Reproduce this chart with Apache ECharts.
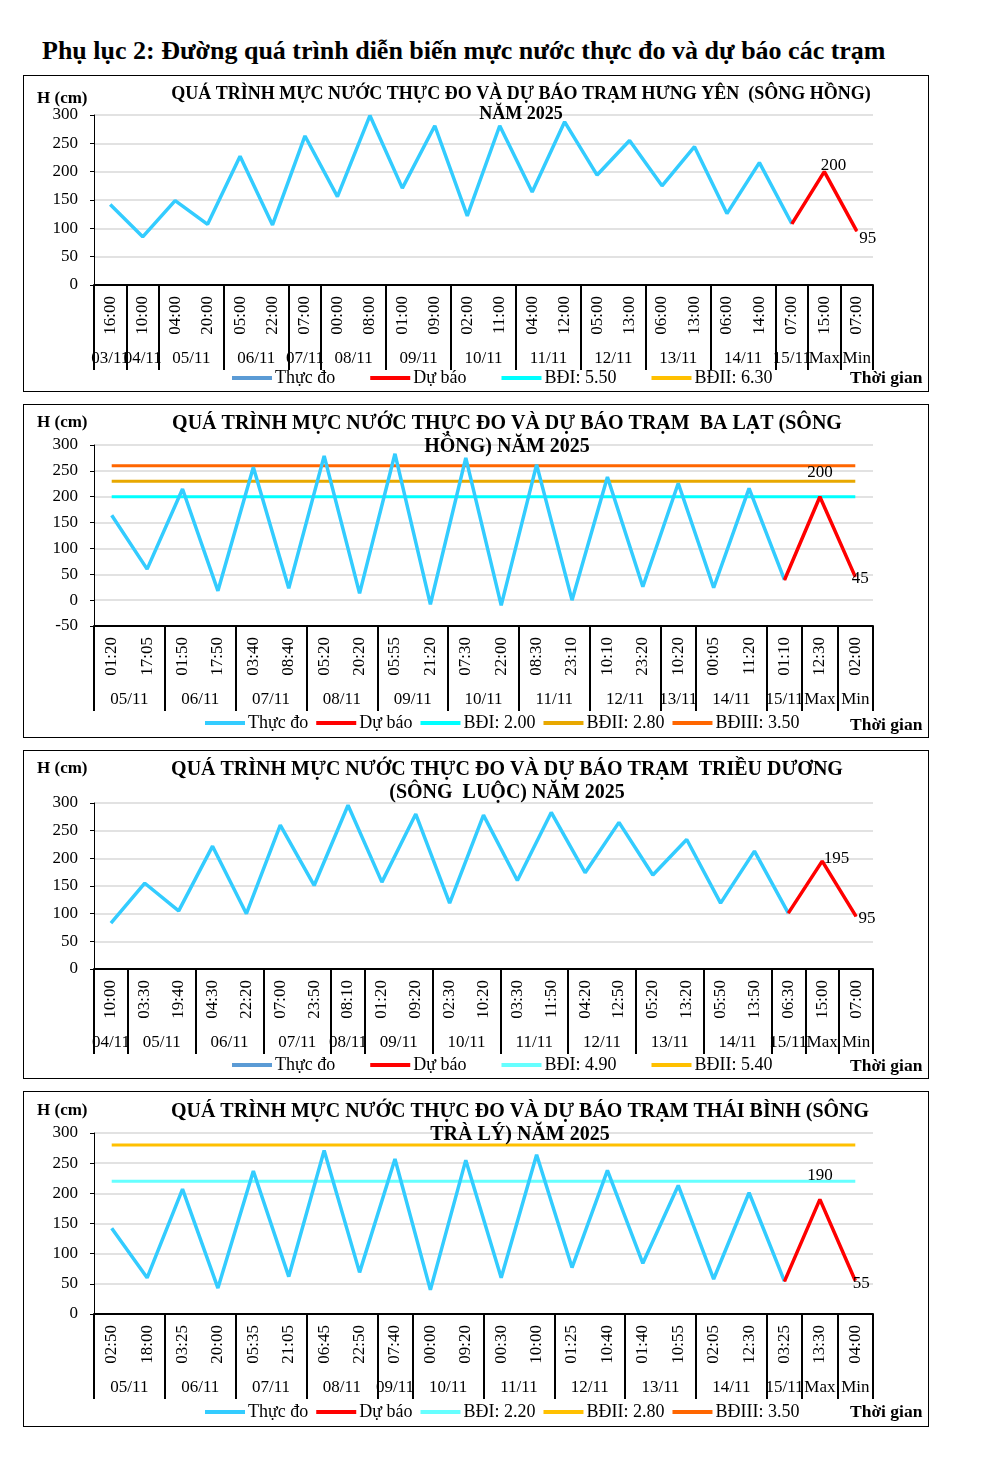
<!DOCTYPE html>
<html><head><meta charset="utf-8">
<script src="https://cdn.jsdelivr.net/npm/echarts@6/dist/echarts.min.js"></script>
<style>
html,body{margin:0;padding:0;background:#fff;}
body{width:985px;height:1480px;position:relative;font-family:'Liberation Serif','Times New Roman',serif;}
#pageTitle{position:absolute;left:42px;top:36px;font-weight:bold;font-size:26px;white-space:nowrap;color:#000;}
.box{position:absolute;left:23px;width:906px;border:1px solid #000;box-sizing:border-box;}
</style></head><body>
<div id="pageTitle">Phụ lục 2: Đường quá trình diễn biến mực nước thực đo và dự báo các trạm</div>
<div class="box" id="c1" style="top:75px;height:317px"></div>
<div class="box" id="c2" style="top:404px;height:334px"></div>
<div class="box" id="c3" style="top:750px;height:329px"></div>
<div class="box" id="c4" style="top:1091px;height:336px"></div>
<script>
// ---------- DATA ----------
// Trạm Hưng Yên (sông Hồng)
const hyTitle = 'QUÁ TRÌNH MỰC NƯỚC THỰC ĐO VÀ DỰ BÁO TRẠM HƯNG YÊN  (SÔNG HỒNG)\nNĂM 2025';
const hyTimes = ['16:00','10:00','04:00','20:00','05:00','22:00','07:00','00:00','08:00','01:00','09:00','02:00','11:00','04:00','12:00','05:00','13:00','06:00','13:00','06:00','14:00','07:00','15:00','07:00'];
const hyDates = ['03/11','04/11','05/11','06/11','07/11','08/11','09/11','10/11','11/11','12/11','13/11','14/11','15/11','Max','Min'];
const hySpans = [1,1,2,2,1,2,2,2,2,2,2,2,1,1,1];
const hyObserved = [142,85,149,107,227,106,263,156,299,171,281,122,281,164,288,194,255,175,244,126,216,108];
const hyForecast = [200,95];
const hyLevelNames = ['BĐI: 5.50','BĐII: 6.30'];
const hyLevelValues = [null,null];
const hyYTicks = [0,300,50];

// Trạm Ba Lạt (sông Hồng)
const blTitle = 'QUÁ TRÌNH MỰC NƯỚC THỰC ĐO VÀ DỰ BÁO TRẠM  BA LẠT (SÔNG\nHỒNG) NĂM 2025';
const blTimes = ['01:20','17:05','01:50','17:50','03:40','08:40','05:20','20:20','05:55','21:20','07:30','22:00','08:30','23:10','10:10','23:20','10:20','00:05','11:20','01:10','12:30','02:00'];
const blDates = ['05/11','06/11','07/11','08/11','09/11','10/11','11/11','12/11','13/11','14/11','15/11','Max','Min'];
const blSpans = [2,2,2,2,2,2,2,2,1,2,1,1,1];
const blObserved = [164,60,215,18,257,23,279,13,283,-8,275,-10,262,0,238,26,226,24,216,39];
const blForecast = [200,45];
const blLevelNames = ['BĐI: 2.00','BĐII: 2.80','BĐIII: 3.50'];
const blLevelValues = [200,230,260];
const blYTicks = [-50,300,50];

// Trạm Triều Dương (sông Luộc)
const tdTitle = 'QUÁ TRÌNH MỰC NƯỚC THỰC ĐO VÀ DỰ BÁO TRẠM  TRIỀU DƯƠNG\n(SÔNG  LUỘC) NĂM 2025';
const tdTimes = ['10:00','03:30','19:40','04:30','22:20','07:00','23:50','08:10','01:20','09:20','02:30','10:20','03:30','11:50','04:20','12:50','05:20','13:20','05:50','13:50','06:30','15:00','07:00'];
const tdDates = ['04/11','05/11','06/11','07/11','08/11','09/11','10/11','11/11','12/11','13/11','14/11','15/11','Max','Min'];
const tdSpans = [1,2,2,2,1,2,2,2,2,2,2,1,1,1];
const tdObserved = [83,155,105,222,100,260,151,296,157,280,119,278,160,283,174,265,170,234,119,213,101];
const tdForecast = [195,95];
const tdLevelNames = ['BĐI: 4.90','BĐII: 5.40'];
const tdLevelValues = [null,null];
const tdYTicks = [0,300,50];

// Trạm Thái Bình (sông Trà Lý)
const tbTitle = 'QUÁ TRÌNH MỰC NƯỚC THỰC ĐO VÀ DỰ BÁO TRẠM THÁI BÌNH (SÔNG\nTRÀ LÝ) NĂM 2025';
const tbTimes = ['02:50','18:00','03:25','20:00','05:35','21:05','06:45','22:50','07:40','00:00','09:20','00:30','10:00','01:25','10:40','01:40','10:55','02:05','12:30','03:25','13:30','04:00'];
const tbDates = ['05/11','06/11','07/11','08/11','09/11','10/11','11/11','12/11','13/11','14/11','15/11','Max','Min'];
const tbSpans = [2,2,2,2,1,2,2,2,2,2,1,1,1];
const tbObserved = [142,60,207,43,237,62,271,69,257,40,255,60,264,77,238,84,213,58,201,54];
const tbForecast = [190,55];
const tbLevelNames = ['BĐI: 2.20','BĐII: 2.80','BĐIII: 3.50'];
const tbLevelValues = [220,280,null];
const tbYTicks = [0,300,50];

const seriesNames = ['Thực đo','Dự báo'];
const yName = 'H (cm)';
const xName = 'Thời gian';

// ---------- STYLE / LAYOUT ----------
const FONT = "'Liberation Serif','Times New Roman',serif";
const OBS_COLOR = '#33CCFF';
const FC_COLOR = '#FF0000';

const configs = [
  { el:'c1', title:hyTitle, times:hyTimes, dates:hyDates, spans:hySpans, obs:hyObserved, fc:hyForecast,
    lvNames:hyLevelNames, lvValues:hyLevelValues, yt:hyYTicks,
    lvColors:['#00FFFF','#FFC000'], obsLegendColor:'#5B9BD5',
    grid:{left:70,right:55,top:39,bottom:106},
    titleX:497, titleY:8, titleLH:20, titleFS:18, hY:14, tgY:293, legendX:208, legendY:293, legendGap:35,
    maxLabel:{position:'right',distance:-4,offset:[0,-6]},
    minLabel:{position:'right',distance:2,offset:[0,7]} },
  { el:'c2', title:blTitle, times:blTimes, dates:blDates, spans:blSpans, obs:blObserved, fc:blForecast,
    lvNames:blLevelNames, lvValues:blLevelValues, yt:blYTicks,
    lvColors:['#00FFFF','#E8A800','#FF6600'], obsLegendColor:null,
    grid:{left:70,right:55,top:40,bottom:111},
    titleX:483, titleY:7, titleLH:23, titleFS:20, hY:9, tgY:311, legendX:181, legendY:309, legendGap:8,
    maxLabel:{position:'top',distance:15,offset:[0,0]},
    minLabel:{position:'right',distance:-4,offset:[0,2]} },
  { el:'c3', title:tdTitle, times:tdTimes, dates:tdDates, spans:tdSpans, obs:tdObserved, fc:tdForecast,
    lvNames:tdLevelNames, lvValues:tdLevelValues, yt:tdYTicks,
    lvColors:['#66FFFF','#FFC000'], obsLegendColor:'#5B9BD5',
    grid:{left:70,right:55,top:52,bottom:109},
    titleX:483, titleY:7, titleLH:23, titleFS:20, hY:9, tgY:306, legendX:208, legendY:305, legendGap:35,
    maxLabel:{position:'right',distance:1,offset:[0,-3]},
    minLabel:{position:'right',distance:2,offset:[0,2]} },
  { el:'c4', title:tbTitle, times:tbTimes, dates:tbDates, spans:tbSpans, obs:tbObserved, fc:tbForecast,
    lvNames:tbLevelNames, lvValues:tbLevelValues, yt:tbYTicks,
    lvColors:['#66FFFF','#FFC000','#FF6600'], obsLegendColor:null,
    grid:{left:70,right:55,top:41,bottom:112},
    titleX:496, titleY:8, titleLH:23, titleFS:20, hY:10, tgY:311, legendX:181, legendY:311, legendGap:8,
    maxLabel:{position:'top',distance:15,offset:[0,0]},
    minLabel:{position:'right',distance:-3,offset:[0,3]} }
];

function buildOption(c) {
  const N = c.times.length;
  const fcStart = c.obs.length - 1;
  const labelBase = {show:true, color:'#000', fontFamily:FONT, fontSize:17};
  const fcData = c.times.map((t,i) => {
    if (i < fcStart) return null;
    if (i === fcStart) return c.obs[i];
    const k = i - fcStart - 1;
    const v = c.fc[k];
    const lab = Object.assign({}, labelBase, k === 0 ? c.maxLabel : c.minLabel);
    return {value:v, label:lab};
  });
  // group boundaries for separators
  const starts = new Set(); let acc = 0;
  c.spans.forEach(s => { starts.add(acc); acc += s; });
  // date labels placed at group centres (half-category resolution axis)
  const dateAxisData = new Array(2*N + 1).fill('');
  acc = 0;
  c.dates.forEach((d,k) => { dateAxisData[2*acc + c.spans[k]] = d; acc += c.spans[k]; });

  const legendData = [
    c.obsLegendColor ? {name:seriesNames[0], itemStyle:{color:c.obsLegendColor}} : {name:seriesNames[0]},
    {name:seriesNames[1]}
  ].concat(c.lvNames.map(n => ({name:n})));

  const series = [];
  c.lvNames.forEach((n,i) => {
    const v = c.lvValues[i];
    series.push({
      name:n, type:'line', xAxisIndex:0, yAxisIndex:0, z:1,
      data: v == null ? [] : c.times.map(() => v),
      showSymbol:false, symbol:'none', silent:true,
      color:c.lvColors[i], lineStyle:{color:c.lvColors[i], width:3}
    });
  });
  series.push({
    name:seriesNames[0], type:'line', z:2, data:c.obs, showSymbol:false, symbol:'none',
    color:OBS_COLOR, lineStyle:{color:OBS_COLOR, width:3.5}
  });
  series.push({
    name:seriesNames[1], type:'line', z:3, data:fcData, showSymbol:true, symbol:'circle', symbolSize:1,
    connectNulls:false, color:FC_COLOR, itemStyle:{color:FC_COLOR}, lineStyle:{color:FC_COLOR, width:3.5},
    label:{show:false}
  });

  return {
    animation:false,
    backgroundColor:'#fff',
    textStyle:{fontFamily:FONT},
    title:[
      {text:c.title, left:c.titleX, top:c.titleY, textAlign:'center', padding:0,
       textStyle:{fontFamily:FONT, fontWeight:'bold', fontSize:c.titleFS, lineHeight:c.titleLH, color:'#000'}},
      {text:yName, left:13, top:c.hY, padding:0,
       textStyle:{fontFamily:FONT, fontWeight:'bold', fontSize:17, color:'#000'}},
      {text:xName, left:826, top:c.tgY, padding:0,
       textStyle:{fontFamily:FONT, fontWeight:'bold', fontSize:17.5, color:'#000'}}
    ],
    legend:{
      data:legendData, left:c.legendX, top:c.legendY, padding:0, itemGap:c.legendGap,
      itemWidth:40, itemHeight:4, icon:'rect', selectedMode:false,
      textStyle:{fontFamily:FONT, fontSize:18, color:'#000', padding:[0,0,0,-2]}
    },
    grid:Object.assign({containLabel:false}, c.grid),
    xAxis:[
      { type:'category', data:c.times, boundaryGap:true, position:'bottom',
        axisLine:{show:true, onZero:false, lineStyle:{color:'#000', width:2}},
        axisTick:{show:true, interval:(i) => starts.has(i), length:85, lineStyle:{color:'#000', width:2}},
        axisLabel:{interval:0, rotate:90, margin:11, fontFamily:FONT, fontSize:17, color:'#000'},
        splitLine:{show:false}
      },
      { type:'category', data:dateAxisData, boundaryGap:false, position:'bottom', offset:57,
        min:0, max:2*N,
        axisLine:{show:false}, axisTick:{show:false}, splitLine:{show:false},
        axisLabel:{interval:0, margin:8, fontFamily:FONT, fontSize:17, color:'#000'}
      }
    ],
    yAxis:{
      type:'value', min:c.yt[0], max:c.yt[1], interval:c.yt[2],
      axisLine:{show:true, lineStyle:{color:'#000', width:1}},
      axisTick:{show:true, length:4, lineStyle:{color:'#000'}},
      axisLabel:{margin:16, fontFamily:FONT, fontSize:17, color:'#000'},
      splitLine:{show:true, lineStyle:{color:'#D9D9D9', width:1.5}}
    },
    series:series
  };
}

configs.forEach(c => {
  const chart = echarts.init(document.getElementById(c.el), null, {renderer:'canvas'});
  chart.setOption(buildOption(c));
});
</script>
</body></html>
